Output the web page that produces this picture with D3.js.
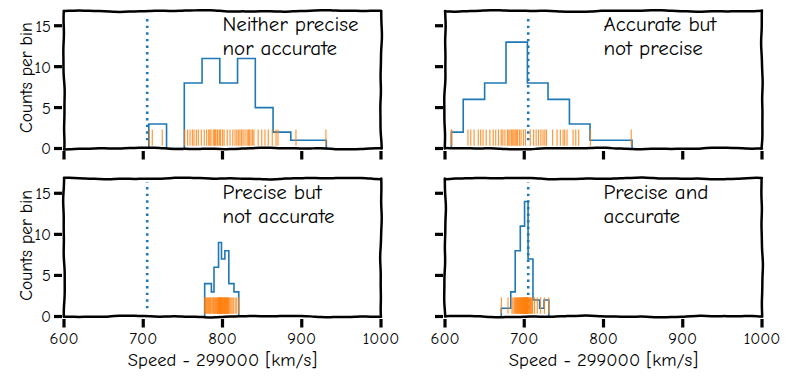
<!DOCTYPE html>
<html><head><meta charset="utf-8">
<script src="https://cdn.jsdelivr.net/npm/d3@7"></script>
<style>
body{margin:0;background:#fff}
svg{display:block}
text{font-family:"Humor Sans","xkcd Script","Comic Neue","Comic Sans MS","DejaVu Sans",sans-serif;fill:#000}
</style>
</head><body>
<svg id="chart" width="787" height="382"></svg>
<script>
// ---------------- data ----------------
const titles = [
  ["Neither precise", "nor accurate"],
  ["Accurate but", "not precise"],
  ["Precise but", "not accurate"],
  ["Precise and", "accurate"]
];
const xTicks = [600, 700, 800, 900, 1000];
const yTicks = [0, 5, 10, 15];
const trueSpeed = 705;
const xLabel = "Speed - 299000 [km/s]";
const yLabel = "Counts per bin";

// Neither precise nor accurate
const edgesA = [707, 729.4, 751.8, 774.2, 796.6, 819, 841.4, 863.8, 886.2, 908.6, 931];
const valuesA = [707.6, 711.4, 724,
  752.3, 756, 759, 762, 764, 767, 769.5, 773.3,
  777, 780, 782.6, 784, 785.5, 788.4, 790, 791, 793, 794, 796,
  797.5, 800, 802, 806, 809.5, 813, 815.8, 818,
  820, 822, 824, 826, 828.4, 831, 832.6, 834, 836, 838, 839.7,
  845, 849.5, 853.6, 857.8, 862.8,
  867.5, 870,
  892.7,
  930.5];

// Accurate but not precise
const edgesB = [608, 623, 650, 677, 704, 730, 757, 783, 810, 836];
const valuesB = [608, 608.6,
  629, 632.5, 636.7, 642, 645, 648,
  652, 656.6, 660.8, 664, 667.5, 671, 673, 675.6,
  678.8, 680.5, 682, 684, 685.5, 687, 688.5, 690, 691.5, 694, 696, 699, 701.5,
  707.6, 711.8, 715, 718, 721, 723.7, 726, 728,
  735.8, 741.4, 745.6, 749, 751, 754,
  761.6, 765, 768.7,
  783.5,
  835];

// Precise but not accurate
const edgesC = [777.5, 781.8, 786, 789.3, 795, 798.7, 803, 808, 814.5, 820.5];
const valuesC = [777.6, 778.5, 779.8, 781,
  782.4, 783.5, 784.6, 785.5,
  786.8, 787.9, 788.7,
  790, 791.2, 792.1, 793, 793.8, 794.6,
  795.3, 795.8, 796.2, 796.7, 797.1, 797.5, 797.9, 798.2, 798.5,
  799.2, 799.9, 800.5, 801.1, 801.7, 802.2, 802.7,
  803.4, 804, 804.6, 805.2, 805.8, 806.4, 807, 807.6,
  809, 810.5, 812, 813.6,
  816, 818, 820.3];

// Precise and accurate
const edgesD = [671, 677, 683, 688.6, 695, 700.4, 704.8, 711, 719.4, 725, 731];
const valuesD = [671.2,
  679.5,
  684.5, 686, 687.8,
  689, 690, 690.8, 691.6, 692.4, 693.1, 693.8, 694.5,
  695.3, 695.8, 696.3, 696.8, 697.3, 697.8, 698.3, 698.8, 699.3, 699.8, 700.2,
  700.6, 700.9, 701.2, 701.5, 701.8, 702.1, 702.4, 702.7, 703, 703.3, 703.6, 703.9, 704.2, 704.5,
  705.3, 706.2, 707, 707.9, 708.8, 709.6, 710.5,
  713, 716.5,
  720.5,
  725.5, 730.8];

const panelsData = [
  {edges: edgesA, values: valuesA, title: titles[0]},
  {edges: edgesB, values: valuesB, title: titles[1]},
  {edges: edgesC, values: valuesC, title: titles[2]},
  {edges: edgesD, values: valuesD, title: titles[3]}
];

// ---------------- layout ----------------
const boxes = [
  {x0: 64, x1: 381, y0: 11, y1: 148.5, row: 0, col: 0},
  {x0: 445, x1: 762, y0: 11, y1: 148.5, row: 0, col: 1},
  {x0: 64, x1: 381, y0: 178.5, y1: 316.5, row: 1, col: 0},
  {x0: 445, x1: 762, y0: 178.5, y1: 316.5, row: 1, col: 1}
];
const blue = "#1f77b4", orange = "#ff7f0e";
const svg = d3.select("#chart");
svg.append("rect").attr("width", 787).attr("height", 382).attr("fill", "#fff");

// hand-drawn wobble (decorative)
function wobble(pts, amp, seed) {
  const out = [];
  let dist = 0;
  for (let i = 0; i < pts.length - 1; i++) {
    const [xa, ya] = pts[i], [xb, yb] = pts[i + 1];
    const len = Math.hypot(xb - xa, yb - ya);
    const n = Math.max(1, Math.round(len / 5));
    const nx = -(yb - ya) / len, ny = (xb - xa) / len;
    const last = i === pts.length - 2;
    for (let k = 0; k < (last ? n + 1 : n); k++) {
      const t = k / n;
      const s = dist + t * len + seed;
      const d = amp * (0.55 * Math.sin(s * 0.045) + 0.3 * Math.sin(s * 0.11 + 1.7) + 0.15 * Math.sin(s * 0.23 + 0.4));
      out.push([xa + (xb - xa) * t + nx * d, ya + (yb - ya) * t + ny * d]);
    }
    dist += len;
  }
  return out;
}
const line = d3.line().curve(d3.curveBasis);

boxes.forEach((b, i) => {
  const pd = panelsData[i];
  const g = svg.append("g");
  const x = d3.scaleLinear().domain([600, 1000]).range([b.x0, b.x1]);
  const y = d3.scaleLinear().domain([0, 16.8]).range([b.y1, b.y0]);

  // dotted true-speed line
  g.append("line")
    .attr("x1", x(trueSpeed)).attr("x2", x(trueSpeed))
    .attr("y1", y(1.0)).attr("y2", y(16.3))
    .attr("stroke", blue).attr("stroke-width", 2.6)
    .attr("stroke-dasharray", "2.4,4.2");

  // histogram (step)
  const e = pd.edges;
  const bins = d3.bin().domain([e[0], e[e.length - 1]]).thresholds(e.slice(1, -1))(pd.values);
  const pts = [[x(bins[0].x0), y(0)]];
  bins.forEach(bn => {
    pts.push([x(bn.x0), y(bn.length)]);
    pts.push([x(bn.x1), y(bn.length)]);
  });
  pts.push([x(bins[bins.length - 1].x1), y(0)]);
  g.append("path")
    .attr("d", d3.line()(pts))
    .attr("fill", "none").attr("stroke", blue).attr("stroke-width", 1.6)
    .attr("stroke-linejoin", "miter");

  // rug
  const rugC = y(1.33);
  g.selectAll(".rug").data(pd.values).join("line")
    .attr("x1", d => x(d)).attr("x2", d => x(d))
    .attr("y1", rugC - 8.2).attr("y2", rugC + 8.2)
    .attr("stroke", orange).attr("stroke-width", 1.2).attr("stroke-opacity", 0.8);

  // title text
  const t = g.append("text").attr("font-size", 21);
  t.append("tspan").attr("x", x(800)).attr("y", y(14.28) - 0.5).text(pd.title[0]);
  t.append("tspan").attr("x", x(800)).attr("y", y(14.28) + 23.5).text(pd.title[1]);

  // spines
  const sw = 2.5;
  const spines = [
    [[b.x0, b.y1], [b.x0, b.y0]],
    [[b.x1, b.y1], [b.x1, b.y0]],
    [[b.x0, b.y0], [b.x1, b.y0]],
    [[b.x0, b.y1], [b.x1, b.y1]]
  ];
  spines.forEach((s, j) => {
    g.append("path").attr("d", line(wobble(s, 1.0, i * 211 + j * 57)))
      .attr("fill", "none").attr("stroke", "#000").attr("stroke-width", sw)
      .attr("stroke-linecap", "round");
  });

  // x ticks
  xTicks.forEach(v => {
    g.append("line").attr("x1", x(v)).attr("x2", x(v))
      .attr("y1", b.y1 + 2.5).attr("y2", b.y1 + 11)
      .attr("stroke", "#000").attr("stroke-width", 3.2);
    if (b.row === 1) {
      g.append("text").attr("x", x(v)).attr("y", b.y1 + 27)
        .attr("text-anchor", "middle").attr("font-size", 16.5).text(v);
    }
  });
  // y ticks
  yTicks.forEach(v => {
    g.append("line").attr("x1", b.x0 - 10).attr("x2", b.x0 - 2)
      .attr("y1", y(v)).attr("y2", y(v))
      .attr("stroke", "#000").attr("stroke-width", 3.2);
    if (b.col === 0) {
      g.append("text").attr("x", b.x0 - 13).attr("y", y(v))
        .attr("dy", "0.36em").attr("text-anchor", "end").attr("font-size", 16.5).text(v);
    }
  });
  // axis labels
  if (b.col === 0) {
    g.append("text")
      .attr("transform", `translate(31.5,${(b.y0 + b.y1) / 2 - 2}) rotate(-90)`)
      .attr("text-anchor", "middle").attr("font-size", 17.5).text(yLabel);
  }
  if (b.row === 1) {
    g.append("text").attr("x", (b.x0 + b.x1) / 2).attr("y", 366)
      .attr("text-anchor", "middle").attr("font-size", 18.5).text(xLabel);
  }
});
</script>
</body></html>
